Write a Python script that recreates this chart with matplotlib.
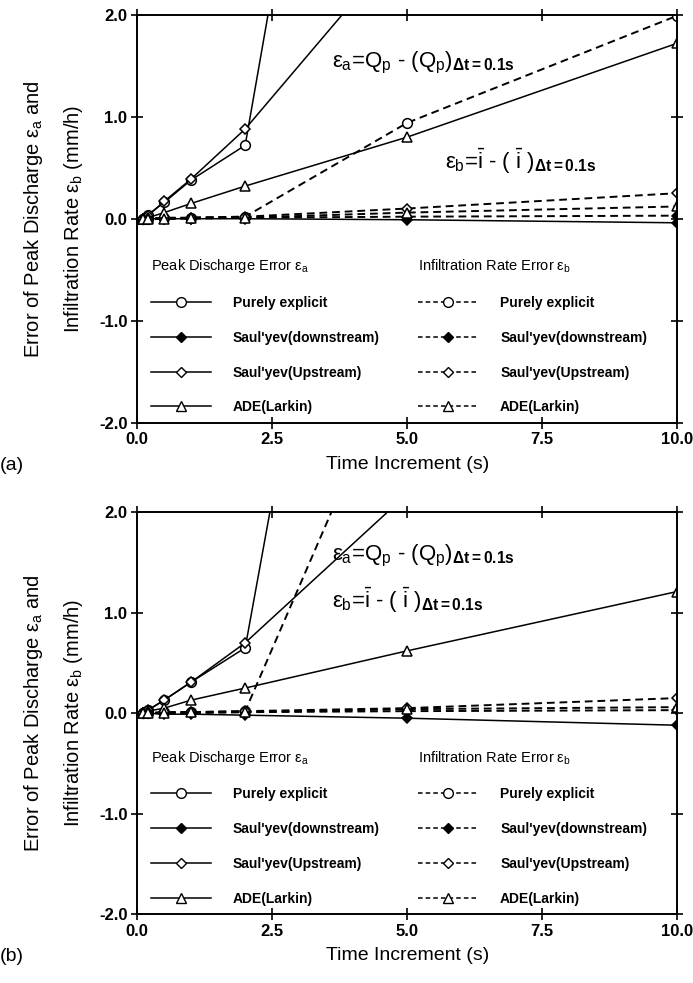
import matplotlib
matplotlib.use('Agg')
import matplotlib.pyplot as plt
from matplotlib.lines import Line2D

plt.rcParams['font.family'] = ['Liberation Sans', 'DejaVu Sans']
plt.rcParams['mathtext.fontset'] = 'custom'
plt.rcParams['mathtext.rm'] = 'Liberation Sans'
plt.rcParams['mathtext.it'] = 'Liberation Sans'
plt.rcParams['mathtext.bf'] = 'Liberation Sans:bold'

dt = [0.1, 0.2, 0.5, 1.0, 2.0, 5.0, 10.0]

# panel (a)
a_qp_explicit = [0.0, 0.04, 0.16, 0.38, 0.72, 9.8, 20.0]
a_qp_down = [0.0, 0.0, 0.0, 0.0, 0.0, -0.01, -0.04]
a_qp_up = [0.0, 0.03, 0.17, 0.39, 0.88, 2.75, 5.5]
a_qp_ade = [0.0, 0.01, 0.06, 0.15, 0.32, 0.80, 1.72]
a_inf_explicit = [0.0, 0.0, 0.01, 0.01, 0.02, 0.94, 1.99]
a_inf_down = [0.0, 0.0, 0.0, 0.0, 0.01, 0.02, 0.03]
a_inf_up = [0.0, 0.0, 0.0, 0.01, 0.02, 0.10, 0.25]
a_inf_ade = [0.0, 0.0, 0.0, 0.01, 0.01, 0.06, 0.12]

# panel (b)
b_qp_explicit = [0.0, 0.03, 0.13, 0.31, 0.65, 9.5, 20.0]
b_qp_down = [0.0, 0.0, -0.01, -0.01, -0.02, -0.05, -0.12]
b_qp_up = [0.0, 0.03, 0.13, 0.31, 0.70, 2.18, 4.6]
b_qp_ade = [0.0, 0.02, 0.05, 0.13, 0.25, 0.62, 1.21]
b_inf_explicit = [0.0, 0.0, 0.01, 0.01, 0.02, 3.74, 8.0]
b_inf_down = [0.0, 0.0, 0.0, 0.0, 0.01, 0.02, 0.03]
b_inf_up = [0.0, 0.0, 0.01, 0.01, 0.02, 0.05, 0.15]
b_inf_ade = [0.0, 0.0, 0.0, 0.01, 0.01, 0.04, 0.06]

methods = ['Purely explicit', "Saul'yev(downstream)", "Saul'yev(Upstream)", 'ADE(Larkin)']
markers = ['o', 'D', 'D', '^']
faces = ['white', 'black', 'white', 'white']
msizes = [7, 5.5, 5.5, 7]

yticks = [-2.0, -1.0, 0.0, 1.0, 2.0]
xticks = [0.0, 2.5, 5.0, 7.5, 10.0]

eq_a = ('$\\varepsilon_a$=Q$_p$ - (Q$_p$)'
        '$_{\\mathbf{\\Delta t=0.1s}}$')
eq_b = ('$\\varepsilon_b$=$\\bar{i}$ - ( $\\bar{i}$ )'
        '$_{\\mathbf{\\Delta t=0.1s}}$')

fig = plt.figure(figsize=(6.93, 9.83), dpi=100)
ax_a = fig.add_axes([0.198, 0.570, 0.779, 0.415])
ax_b = fig.add_axes([0.198, 0.070, 0.779, 0.409])


def draw_panel(ax, qp, inf, label, eqa_pos, eqb_pos):
    h_qp = []
    h_inf = []
    for i in range(4):
        ax.plot(dt, qp[i], color='black', lw=1.1, marker=markers[i],
                ms=msizes[i], mfc=faces[i], mec='black', mew=1.1)
        ax.plot(dt, inf[i], color='black', lw=1.4, ls=(0, (4, 2.5)),
                marker=markers[i], ms=msizes[i], mfc=faces[i], mec='black',
                mew=1.1)
        h_qp.append(Line2D([], [], color='black', lw=1.1, marker=markers[i],
                           ms=msizes[i], mfc=faces[i], mec='black'))
        h_inf.append(Line2D([], [], color='black', lw=1.1, ls=(0, (3, 2)),
                            marker=markers[i], ms=msizes[i], mfc=faces[i],
                            mec='black'))
    ax.set_xlim(0, 10)
    ax.set_ylim(-2, 2)
    ax.set_xticks(xticks)
    ax.set_xticklabels(['%.1f' % v for v in xticks])
    ax.set_yticks(yticks)
    ax.set_yticklabels(['%.1f' % v for v in yticks])
    ax.tick_params(direction='inout', length=8, width=1.2, labelsize=12,
                   top=True, right=True, pad=3)
    for lab in ax.get_xticklabels() + ax.get_yticklabels():
        lab.set_fontweight('bold')
    for s in ax.spines.values():
        s.set_linewidth(1.4)
    ax.set_xlabel('Time Increment (s)', fontsize=14, labelpad=6)
    ax.set_ylabel('Error of Peak Discharge $\\varepsilon_a$ and\n'
                  'Infiltration Rate $\\varepsilon_b$ (mm/h)',
                  fontsize=14.5, labelpad=10, linespacing=2.0)

    leg_kw = dict(frameon=False, handlelength=4.3, handletextpad=1.6,
                  labelspacing=1.5, numpoints=1, title_fontsize=10.5,
                  prop={'weight': 'bold', 'size': 10}, alignment='left',
                  borderaxespad=0.3, borderpad=0.3)
    l1 = ax.legend(h_qp, methods, loc='lower left',
                   bbox_to_anchor=(0.01, 0.0),
                   title='Peak Discharge Error $\\varepsilon_a$', **leg_kw)
    ax.add_artist(l1)
    ax.legend(h_inf, methods, loc='lower left', bbox_to_anchor=(0.505, 0.0),
              title='Infiltration Rate Error $\\varepsilon_b$', **leg_kw)

    ax.text(eqa_pos[0], eqa_pos[1], eq_a, fontsize=16, va='center', ha='left')
    ax.text(eqb_pos[0], eqb_pos[1], eq_b, fontsize=16, va='center', ha='left')
    ax.text(-0.255, -0.105, label, transform=ax.transAxes, fontsize=14,
            va='center')


draw_panel(ax_a,
           [a_qp_explicit, a_qp_down, a_qp_up, a_qp_ade],
           [a_inf_explicit, a_inf_down, a_inf_up, a_inf_ade],
           '(a)', (3.6, 1.53), (5.7, 0.56))
draw_panel(ax_b,
           [b_qp_explicit, b_qp_down, b_qp_up, b_qp_ade],
           [b_inf_explicit, b_inf_down, b_inf_up, b_inf_ade],
           '(b)', (3.6, 1.56), (3.6, 1.12))

fig.savefig('out.png', dpi=100)
